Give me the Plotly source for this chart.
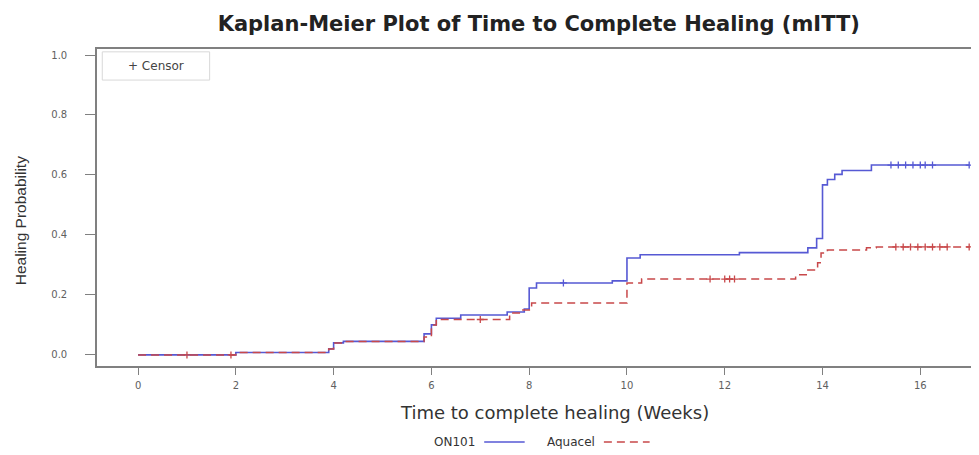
import numpy as np
import plotly.graph_objects as go

# ---- data ----
on101_time = [0, 2.0, 3.9, 4.0, 4.2, 5.85, 6.0, 6.1, 6.6, 7.55, 7.9, 8.0, 8.15, 9.7, 10.0, 10.27,
              12.3, 13.7, 13.88, 14.0, 14.1, 14.25, 14.4, 15.0, 17.0]
on101_prob = [0, 0.008, 0.02, 0.04, 0.045, 0.07, 0.10, 0.122, 0.133, 0.143, 0.153, 0.223, 0.24, 0.247,
              0.323, 0.334, 0.341, 0.357, 0.388, 0.567, 0.585, 0.602, 0.615, 0.633, 0.633]
on101_censor = [8.7, 15.4, 15.55, 15.7, 15.85, 16.0, 16.1, 16.25, 17.0]

aqua_time = [0, 2.0, 3.9, 4.0, 4.2, 5.85, 6.0, 6.1, 7.6, 7.85, 8.05, 10.0, 10.3, 13.45, 13.7,
             13.9, 13.97, 14.1, 14.9, 15.1, 17.0]
aqua_prob = [0, 0.008, 0.02, 0.04, 0.045, 0.06, 0.10, 0.118, 0.14, 0.15, 0.173, 0.24, 0.253, 0.267,
             0.283, 0.307, 0.34, 0.35, 0.357, 0.36, 0.36]
aqua_censor = [1.0, 1.9, 7.0, 11.7, 12.0, 12.1, 12.2, 15.5, 15.65, 15.8, 15.95, 16.1, 16.25, 16.4, 16.55, 17.0]

x_ticks = [0, 2, 4, 6, 8, 10, 12, 14, 16]
y_ticks = [0.0, 0.2, 0.4, 0.6, 0.8, 1.0]

BLUE = "#5659d4"
RED = "#c8484a"
DASH = "8px,5px"


def step_at(times, probs, t):
    idx = np.searchsorted(np.asarray(times), np.asarray(t), side="right") - 1
    return np.asarray(probs)[idx]


fig = go.Figure()
fig.add_trace(go.Scatter(x=on101_time, y=on101_prob, mode="lines", line=dict(color=BLUE, width=1.6, shape="hv"),
                         name="ON101", showlegend=False))
fig.add_trace(go.Scatter(x=aqua_time, y=aqua_prob, mode="lines",
                         line=dict(color=RED, width=1.5, shape="hv", dash=DASH),
                         name="Aquacel", showlegend=False))
fig.add_trace(go.Scatter(x=on101_censor, y=step_at(on101_time, on101_prob, on101_censor), mode="markers",
                         marker=dict(symbol="cross-thin", size=5, line=dict(color=BLUE, width=1.3)),
                         showlegend=False))
fig.add_trace(go.Scatter(x=aqua_censor, y=step_at(aqua_time, aqua_prob, aqua_censor), mode="markers",
                         marker=dict(symbol="cross-thin", size=5, line=dict(color=RED, width=1.3)),
                         showlegend=False))

axis_col = "#808080"
FONT = "DejaVu Sans, Verdana, sans-serif"
tick_font = dict(family=FONT, size=10, color="#606060")

fig.update_layout(
    width=979, height=455,
    margin=dict(l=89, r=8, t=41, b=97),
    paper_bgcolor="white", plot_bgcolor="white",
    title=dict(text="<b>Kaplan-Meier Plot of Time to Complete Healing (mITT)</b>",
               xref="paper", x=0.502, xanchor="center", y=0.965, yanchor="middle",
               font=dict(family=FONT, size=21, color="#222222")),
    xaxis=dict(range=[-0.84, 17.16], tickvals=x_ticks, ticktext=[str(v) for v in x_ticks],
               showgrid=False, zeroline=False, showline=True, linecolor=axis_col, linewidth=1.6,
               mirror=True, ticks="outside", ticklen=7, tickcolor=axis_col, tickfont=tick_font,
               ticklabelstandoff=2),
    yaxis=dict(range=[-0.037, 1.02], tickvals=y_ticks, ticktext=["%.1f" % v for v in y_ticks],
               showgrid=False, zeroline=False, showline=True, linecolor=axis_col, linewidth=1.6,
               mirror=True, ticks="outside", ticklen=10, tickcolor=axis_col, tickfont=tick_font,
               ticklabelstandoff=16),
)

# axis titles
fig.add_annotation(xref="paper", yref="paper", x=0.52, y=-0.148, xanchor="center", yanchor="middle",
                   text="Time to complete healing (Weeks)", showarrow=False,
                   font=dict(family=FONT, size=18, color="#333333"))
fig.add_annotation(xref="paper", yref="paper", x=-0.0873, y=0.457, xanchor="center", yanchor="middle",
                   text="Healing Probability", showarrow=False, textangle=-90,
                   font=dict(family="Liberation Sans Narrow, Liberation Sans, sans-serif", size=15.5,
                             color="#333333"))

# censor legend box inside plot
fig.add_shape(type="rect", xref="paper", yref="paper", x0=0.006, x1=0.128, y0=0.902, y1=0.991,
              line=dict(color="#d8d8d8", width=1), fillcolor="white")
fig.add_annotation(xref="paper", yref="paper", x=0.067, y=0.946, xanchor="center", yanchor="middle",
                   text="+ Censor", showarrow=False,
                   font=dict(family=FONT, size=12, color="#444444"))

# bottom legend (text followed by line sample)
leg_font = dict(family=FONT, size=12, color="#333333")
fig.add_annotation(xref="paper", yref="paper", x=0.432, y=-0.240, xanchor="right", yanchor="middle",
                   text="ON101", showarrow=False, font=leg_font)
fig.add_shape(type="line", xref="paper", yref="paper", x0=0.440, x1=0.486, y0=-0.240, y1=-0.240,
              line=dict(color=BLUE, width=1.5))
fig.add_annotation(xref="paper", yref="paper", x=0.568, y=-0.240, xanchor="right", yanchor="middle",
                   text="Aquacel", showarrow=False, font=leg_font)
fig.add_shape(type="line", xref="paper", yref="paper", x0=0.576, x1=0.628, y0=-0.240, y1=-0.240,
              line=dict(color=RED, width=1.5, dash=DASH))

fig.write_html("out.html")
